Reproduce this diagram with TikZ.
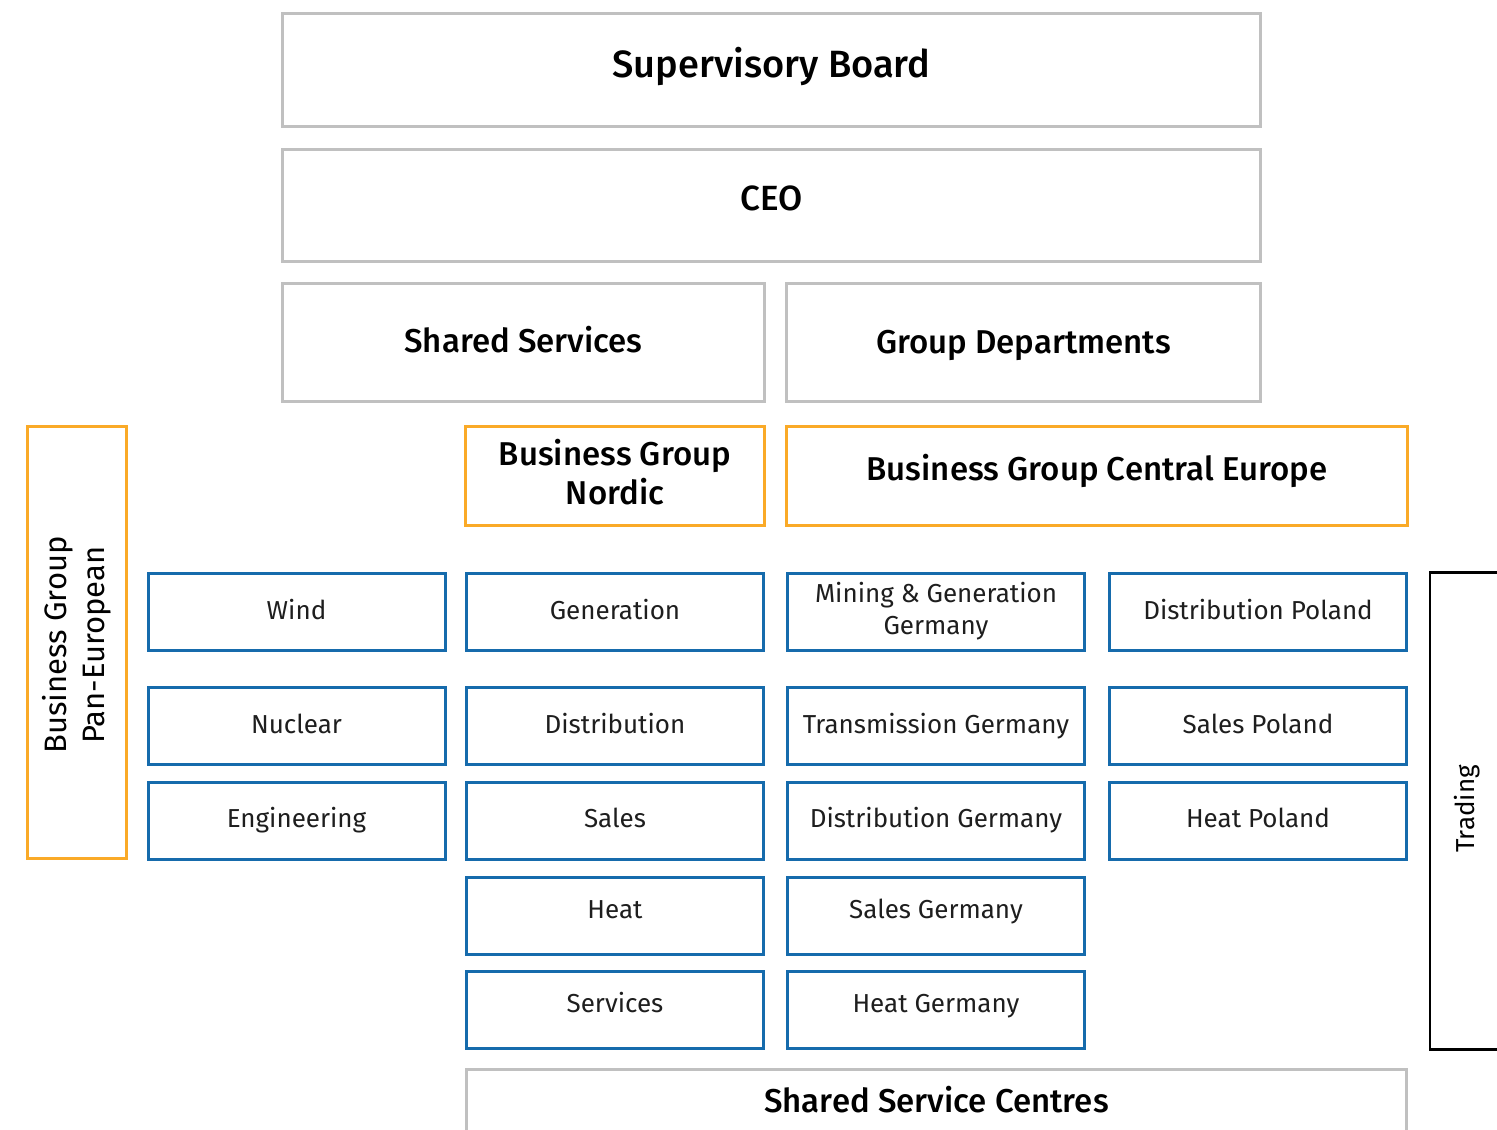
\documentclass[tikz,border=0pt]{standalone}
\usepackage{fontspec}
\setmainfont{Fira Sans}[BoldFont={Fira Sans Medium}]
\begin{document}
\begin{tikzpicture}[x=1pt,y=-1pt,
  every node/.style={inner sep=0pt, outer sep=0pt, align=center},
  capped/.style={text height=#1, text depth=0pt},
  headfont/.style={font=\fontsize{#1}{#1}\selectfont\bfseries},
  graybox/.style={draw=boxgray, line width=3pt, headfont=33, capped=22.7pt},
  orangebox/.style={draw=bgorange, line width=3pt, headfont=33, capped=22.7pt},
  unitbox/.style={draw=unitblue, line width=3pt, minimum width=297pt, minimum height=77pt,
                  font=\fontsize{26}{32}\selectfont, text=unittext, capped=17.9pt},
  twoline/.style={text height=, text depth=},
]
\definecolor{boxgray}{RGB}{192,192,192}
\definecolor{bgorange}{RGB}{250,170,40}
\definecolor{unitblue}{RGB}{22,107,172}
\definecolor{unittext}{RGB}{30,30,30}
\useasboundingbox (0,0) rectangle (1497,1130);
\fill[white] (0,0) rectangle (1497,1130);

% top governance levels
\node[graybox, headfont=38, capped=26.2pt, minimum width=978pt, minimum height=113pt] (board) at (771.5,70) {\raisebox{6pt}{Supervisory Board}};
\node[graybox, headfont=35, capped=24.1pt, minimum width=978pt, minimum height=112pt] (ceo) at (771.5,205.5) {\raisebox{7.5pt}{CEO}};
\node[graybox, minimum width=482pt, minimum height=118pt] (shared) at (523.5,342.5) {\raisebox{1.5pt}{Shared Services}};
\node[graybox, minimum width=474pt, minimum height=118pt] (dept) at (1023.5,342.5) {Group Departments};

% business groups
\node[orangebox, minimum width=99pt, minimum height=432pt] (pan) at (77,642.5) {};
\node[rotate=90, font=\fontsize{31}{38}\selectfont] (pantext) at (77,645) {Business Group\\Pan-European};
\node[orangebox, twoline, minimum width=299pt, minimum height=99pt, font=\fontsize{33}{39}\selectfont\bfseries] (nordic) at (615,476) {\raisebox{8.5pt}{\shortstack{Business Group\\[2pt]Nordic}}};
\node[orangebox, minimum width=621pt, minimum height=99pt] (central) at (1097,476) {\raisebox{7pt}{Business Group Central Europe}};

% business units, first column
\node[unitbox] (wind) at (296.5,611.5) {\raisebox{0.5pt}{Wind}};
\node[unitbox] (nuclear) at (296.5,725.5) {\raisebox{1pt}{Nuclear}};
\node[unitbox] (engineering) at (296.5,820.5) {\raisebox{2pt}{Engineering}};

% second column
\node[unitbox] (generation) at (615,611.5) {\raisebox{0.5pt}{Generation}};
\node[unitbox] (distribution) at (615,725.5) {\raisebox{1pt}{Distribution}};
\node[unitbox] (sales) at (615,820.5) {\raisebox{2pt}{Sales}};
\node[unitbox] (heat) at (615,915.5) {\raisebox{5.5pt}{Heat}};
\node[unitbox] (services) at (615,1010) {\raisebox{6pt}{Services}};

% third column
\node[unitbox, twoline] (mining) at (936,611.5) {\raisebox{-4pt}{\shortstack{Mining \& Generation\\[5pt]Germany}}};
\node[unitbox] (transmission) at (936,725.5) {\raisebox{1pt}{Transmission Germany}};
\node[unitbox] (distde) at (936,820.5) {\raisebox{2pt}{Distribution Germany}};
\node[unitbox] (salesde) at (936,915.5) {\raisebox{5.5pt}{Sales Germany}};
\node[unitbox] (heatde) at (936,1010) {\raisebox{6pt}{Heat Germany}};

% fourth column
\node[unitbox] (distpl) at (1258,611.5) {\raisebox{0.5pt}{Distribution Poland}};
\node[unitbox] (salespl) at (1258,725.5) {\raisebox{1pt}{Sales Poland}};
\node[unitbox] (heatpl) at (1258,820.5) {\raisebox{2pt}{Heat Poland}};

% trading runs off the right edge
\node[draw=black, line width=2.5pt, minimum width=100pt, minimum height=477pt] (trading) at (1480,811) {};
\node[rotate=90, font=\fontsize{26}{30}\selectfont] (tradingtext) at (1467,809) {Trading};

% shared service centres run off the bottom edge
\node[graybox, minimum width=940pt, minimum height=110pt, anchor=north] (ssc) at (936.5,1069) {};
\node[headfont=33, capped=22.7pt] (ssctext) at (936.5,1101) {Shared Service Centres};
\end{tikzpicture}
\end{document}
